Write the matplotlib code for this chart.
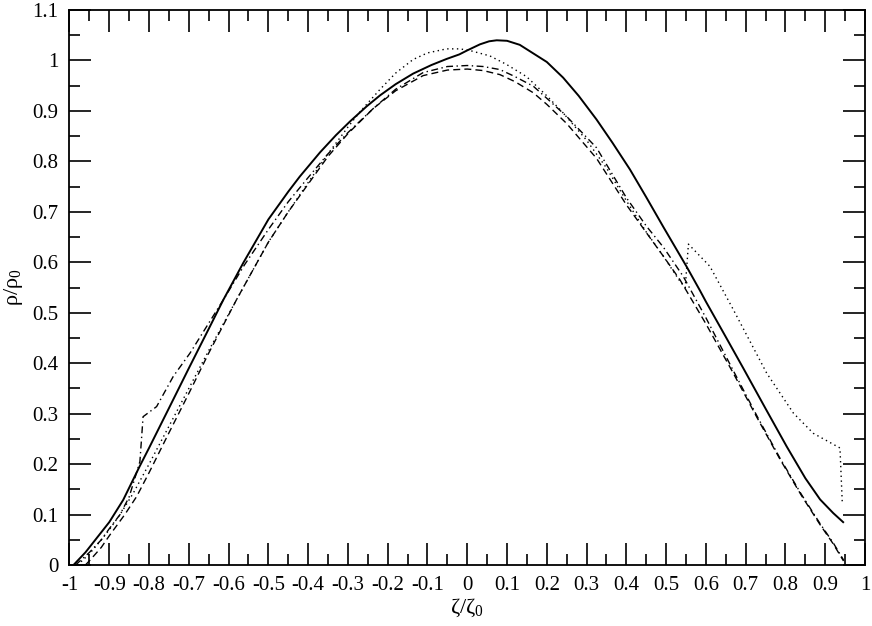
import matplotlib
matplotlib.use("Agg")
import matplotlib.pyplot as plt
from matplotlib.ticker import MultipleLocator, FuncFormatter

plt.rcParams['font.family'] = ['Liberation Serif', 'DejaVu Serif']
plt.rcParams['mathtext.fontset'] = 'custom'
plt.rcParams['mathtext.rm'] = 'Liberation Serif'

# solid curve
solid_x = [-0.99, -0.96, -0.93, -0.9, -0.865, -0.824, -0.8, -0.748, -0.7, -0.65,
           -0.613, -0.563, -0.5, -0.45, -0.421, -0.37, -0.33, -0.295, -0.253, -0.219,
           -0.18, -0.136, -0.09, -0.052, -0.02, 0.0, 0.032, 0.055, 0.074, 0.1,
           0.132, 0.158, 0.2, 0.241, 0.28, 0.325, 0.365, 0.409, 0.45, 0.493,
           0.551, 0.585, 0.6, 0.65, 0.694, 0.75, 0.803, 0.85, 0.887, 0.92, 0.945]
solid_y = [0.0, 0.025, 0.055, 0.085, 0.129, 0.195, 0.232, 0.314, 0.39, 0.468,
           0.526, 0.599, 0.685, 0.74, 0.770, 0.818, 0.852, 0.879, 0.909, 0.931,
           0.953, 0.974, 0.991, 1.003, 1.012, 1.020, 1.032, 1.038, 1.040, 1.039,
           1.031, 1.018, 0.997, 0.966, 0.930, 0.883, 0.837, 0.784, 0.729, 0.670,
           0.592, 0.544, 0.522, 0.452, 0.390, 0.31, 0.235, 0.172, 0.130, 0.103, 0.085]

# dotted curve
dot_x = [-0.98, -0.95, -0.92, -0.9, -0.873, -0.84, -0.8, -0.75, -0.7, -0.65,
         -0.58, -0.5, -0.45, -0.4, -0.35, -0.3, -0.27, -0.219, -0.18, -0.136,
         -0.1, -0.052, -0.018, 0.01, 0.057, 0.099, 0.149, 0.2, 0.24, 0.3,
         0.35, 0.4, 0.45, 0.493, 0.535, 0.548, 0.556, 0.61, 0.669, 0.753,
         0.82, 0.87, 0.937, 0.943]
dot_y = [0.0, 0.022, 0.05, 0.07, 0.1, 0.142, 0.2, 0.275, 0.35, 0.425,
         0.526, 0.64, 0.70, 0.758, 0.815, 0.868, 0.898, 0.943, 0.975, 1.002,
         1.015, 1.023, 1.023, 1.019, 1.009, 0.992, 0.968, 0.930, 0.897, 0.842,
         0.787, 0.722, 0.660, 0.612, 0.562, 0.55, 0.636, 0.592, 0.506, 0.380,
         0.301, 0.261, 0.232, 0.12]

# dashed curve
dash_x = [-0.96, -0.948, -0.92, -0.9, -0.861, -0.831, -0.8, -0.75, -0.7, -0.65,
          -0.58, -0.5, -0.45, -0.4, -0.35, -0.3, -0.236, -0.18, -0.111, -0.05,
          0.0, 0.04, 0.082, 0.12, 0.166, 0.2, 0.25, 0.325, 0.4, 0.45,
          0.493, 0.535, 0.6, 0.669, 0.73, 0.786, 0.84, 0.887, 0.92, 0.946]
dash_y = [0.0, 0.01, 0.035, 0.058, 0.1, 0.136, 0.183, 0.262, 0.34, 0.42,
          0.526, 0.64, 0.70, 0.755, 0.81, 0.855, 0.905, 0.94, 0.970, 0.981,
          0.983, 0.980, 0.972, 0.958, 0.936, 0.913, 0.875, 0.806, 0.714, 0.659,
          0.612, 0.565, 0.478, 0.380, 0.29, 0.210, 0.138, 0.080, 0.042, 0.008]

# dash-dot curve
dd_x = [-0.985, -0.95, -0.92, -0.9, -0.873, -0.85, -0.823, -0.815, -0.781, -0.739,
        -0.697, -0.655, -0.613, -0.56, -0.5, -0.45, -0.4, -0.35, -0.3, -0.236,
        -0.18, -0.111, -0.05, 0.0, 0.04, 0.082, 0.12, 0.166, 0.2, 0.25,
        0.325, 0.4, 0.45, 0.493, 0.543, 0.6, 0.669, 0.73, 0.786, 0.84,
        0.887, 0.92, 0.946]
dd_y = [0.0, 0.025, 0.05, 0.072, 0.1, 0.135, 0.205, 0.294, 0.314, 0.374,
        0.42, 0.473, 0.526, 0.595, 0.665, 0.72, 0.768, 0.815, 0.857, 0.905,
        0.943, 0.976, 0.988, 0.990, 0.988, 0.982, 0.968, 0.949, 0.925, 0.889,
        0.827, 0.728, 0.672, 0.630, 0.572, 0.49, 0.385, 0.293, 0.212, 0.140,
        0.082, 0.044, 0.010]

fig = plt.figure(figsize=(8.72, 6.26), dpi=100)
ax = fig.add_axes([0.0797, 0.0974, 0.9123, 0.8866])

ax.plot(solid_x, solid_y, color='black', lw=1.4, ls='-')
ax.plot(dot_x, dot_y, color='black', lw=1.0, ls=(0, (1, 2.5)))
ax.plot(dash_x, dash_y, color='black', lw=1.0, ls=(0, (5, 3)))
ax.plot(dd_x, dd_y, color='black', lw=1.0, ls=(0, (5, 2.5, 1, 2.5)))

ax.set_xlim(-1, 1)
ax.set_ylim(0, 1.1)


def fmt(v, pos):
    s = '%.1f' % v
    if s.endswith('.0'):
        s = s[:-2]
    if s == '-0':
        s = '0'
    return s


ax.xaxis.set_major_locator(MultipleLocator(0.1))
ax.xaxis.set_minor_locator(MultipleLocator(0.05))
ax.yaxis.set_major_locator(MultipleLocator(0.1))
ax.yaxis.set_minor_locator(MultipleLocator(0.05))
ax.xaxis.set_major_formatter(FuncFormatter(fmt))
ax.yaxis.set_major_formatter(FuncFormatter(fmt))

ax.tick_params(which='both', direction='in', top=True, right=True, width=1.2)
ax.tick_params(which='major', length=16, labelsize=15, pad=8)
ax.tick_params(which='minor', length=8)
for sp in ax.spines.values():
    sp.set_linewidth(1.3)

ax.set_xlabel('ζ/ζ$_0$', fontsize=16, labelpad=1)
ax.set_ylabel('ρ/ρ$_0$', fontsize=16, labelpad=5)

fig.savefig('out.png', dpi=100)
